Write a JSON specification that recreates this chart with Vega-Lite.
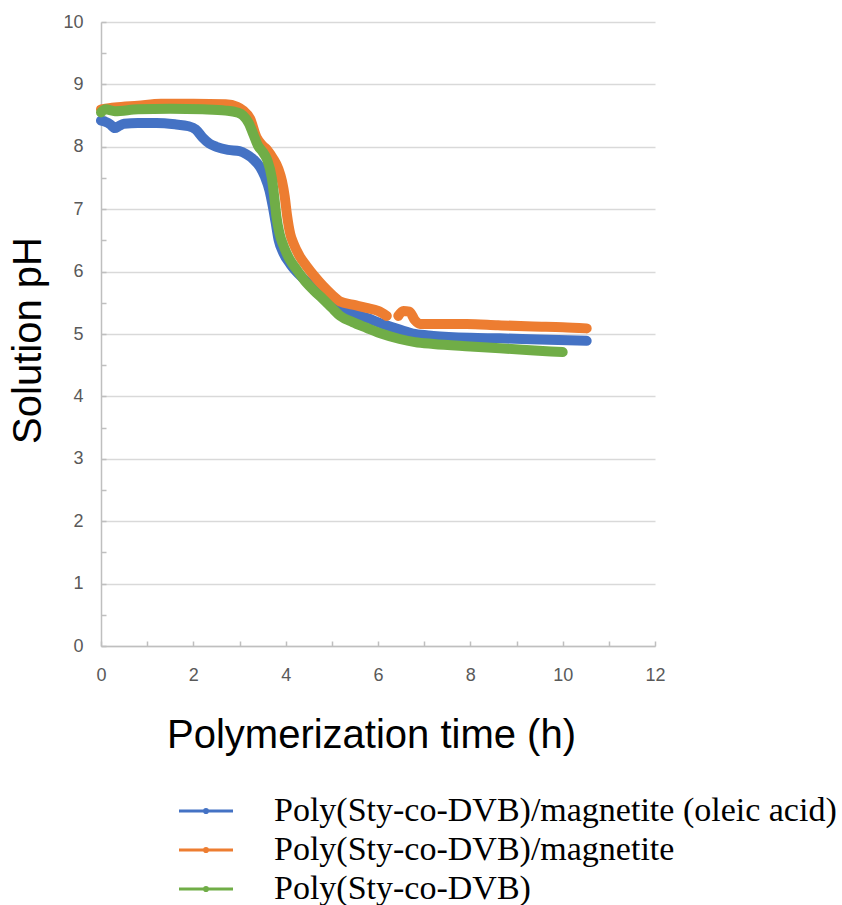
{
  "$schema": "https://vega.github.io/schema/vega-lite/v6.json",
  "autosize": {"type": "none"},
  "padding": {"left": 101, "top": 22, "right": 187, "bottom": 259},
  "width": 554,
  "height": 624,
  "background": "white",
  "config": {
    "view": {"stroke": null},
    "axis": {
      "domainColor": "#bfbfbf",
      "domainWidth": 1.5,
      "tickColor": "#bfbfbf",
      "tickWidth": 1.5,
      "gridColor": "#d9d9d9",
      "gridWidth": 1.5,
      "labelFont": "Liberation Sans",
      "labelFontSize": 18,
      "labelColor": "#595959",
      "labelFlush": false,
      "titleFont": "Liberation Sans",
      "titleFontSize": 40,
      "titleFontWeight": "normal",
      "titleColor": "#000000"
    }
  },
  "datasets": {
    "ph": [
      {"series": "Poly(Sty-co-DVB)/magnetite (oleic acid)", "part": "a", "t": 0, "ph": 8.42},
      {"series": "Poly(Sty-co-DVB)/magnetite (oleic acid)", "part": "a", "t": 0.1, "ph": 8.4},
      {"series": "Poly(Sty-co-DVB)/magnetite (oleic acid)", "part": "a", "t": 0.2, "ph": 8.36},
      {"series": "Poly(Sty-co-DVB)/magnetite (oleic acid)", "part": "a", "t": 0.3, "ph": 8.3},
      {"series": "Poly(Sty-co-DVB)/magnetite (oleic acid)", "part": "a", "t": 0.38, "ph": 8.33},
      {"series": "Poly(Sty-co-DVB)/magnetite (oleic acid)", "part": "a", "t": 0.5, "ph": 8.37},
      {"series": "Poly(Sty-co-DVB)/magnetite (oleic acid)", "part": "a", "t": 0.8, "ph": 8.38},
      {"series": "Poly(Sty-co-DVB)/magnetite (oleic acid)", "part": "a", "t": 1.2, "ph": 8.38},
      {"series": "Poly(Sty-co-DVB)/magnetite (oleic acid)", "part": "a", "t": 1.6, "ph": 8.36},
      {"series": "Poly(Sty-co-DVB)/magnetite (oleic acid)", "part": "a", "t": 1.9, "ph": 8.33},
      {"series": "Poly(Sty-co-DVB)/magnetite (oleic acid)", "part": "a", "t": 2.05, "ph": 8.28},
      {"series": "Poly(Sty-co-DVB)/magnetite (oleic acid)", "part": "a", "t": 2.2, "ph": 8.15},
      {"series": "Poly(Sty-co-DVB)/magnetite (oleic acid)", "part": "a", "t": 2.35, "ph": 8.05},
      {"series": "Poly(Sty-co-DVB)/magnetite (oleic acid)", "part": "a", "t": 2.5, "ph": 8.0},
      {"series": "Poly(Sty-co-DVB)/magnetite (oleic acid)", "part": "a", "t": 2.75, "ph": 7.95},
      {"series": "Poly(Sty-co-DVB)/magnetite (oleic acid)", "part": "a", "t": 3.0, "ph": 7.93},
      {"series": "Poly(Sty-co-DVB)/magnetite (oleic acid)", "part": "a", "t": 3.15, "ph": 7.88},
      {"series": "Poly(Sty-co-DVB)/magnetite (oleic acid)", "part": "a", "t": 3.3, "ph": 7.8},
      {"series": "Poly(Sty-co-DVB)/magnetite (oleic acid)", "part": "a", "t": 3.45, "ph": 7.67},
      {"series": "Poly(Sty-co-DVB)/magnetite (oleic acid)", "part": "a", "t": 3.55, "ph": 7.52},
      {"series": "Poly(Sty-co-DVB)/magnetite (oleic acid)", "part": "a", "t": 3.65, "ph": 7.3},
      {"series": "Poly(Sty-co-DVB)/magnetite (oleic acid)", "part": "a", "t": 3.72, "ph": 7.05},
      {"series": "Poly(Sty-co-DVB)/magnetite (oleic acid)", "part": "a", "t": 3.78, "ph": 6.8},
      {"series": "Poly(Sty-co-DVB)/magnetite (oleic acid)", "part": "a", "t": 3.85, "ph": 6.5},
      {"series": "Poly(Sty-co-DVB)/magnetite (oleic acid)", "part": "a", "t": 3.95, "ph": 6.3},
      {"series": "Poly(Sty-co-DVB)/magnetite (oleic acid)", "part": "a", "t": 4.1, "ph": 6.12},
      {"series": "Poly(Sty-co-DVB)/magnetite (oleic acid)", "part": "a", "t": 4.45, "ph": 5.84},
      {"series": "Poly(Sty-co-DVB)/magnetite (oleic acid)", "part": "a", "t": 4.8, "ph": 5.58},
      {"series": "Poly(Sty-co-DVB)/magnetite (oleic acid)", "part": "a", "t": 5.05, "ph": 5.45},
      {"series": "Poly(Sty-co-DVB)/magnetite (oleic acid)", "part": "a", "t": 5.4, "ph": 5.34},
      {"series": "Poly(Sty-co-DVB)/magnetite (oleic acid)", "part": "a", "t": 5.75, "ph": 5.26},
      {"series": "Poly(Sty-co-DVB)/magnetite (oleic acid)", "part": "a", "t": 6.1, "ph": 5.16},
      {"series": "Poly(Sty-co-DVB)/magnetite (oleic acid)", "part": "a", "t": 6.47, "ph": 5.07},
      {"series": "Poly(Sty-co-DVB)/magnetite (oleic acid)", "part": "a", "t": 6.8, "ph": 5.0},
      {"series": "Poly(Sty-co-DVB)/magnetite (oleic acid)", "part": "a", "t": 7.2, "ph": 4.97},
      {"series": "Poly(Sty-co-DVB)/magnetite (oleic acid)", "part": "a", "t": 8.0, "ph": 4.94},
      {"series": "Poly(Sty-co-DVB)/magnetite (oleic acid)", "part": "a", "t": 8.64, "ph": 4.93},
      {"series": "Poly(Sty-co-DVB)/magnetite (oleic acid)", "part": "a", "t": 9.5, "ph": 4.91},
      {"series": "Poly(Sty-co-DVB)/magnetite (oleic acid)", "part": "a", "t": 10.52, "ph": 4.89},

      {"series": "Poly(Sty-co-DVB)/magnetite", "part": "a", "t": 0, "ph": 8.6},
      {"series": "Poly(Sty-co-DVB)/magnetite", "part": "a", "t": 0.3, "ph": 8.63},
      {"series": "Poly(Sty-co-DVB)/magnetite", "part": "a", "t": 0.8, "ph": 8.66},
      {"series": "Poly(Sty-co-DVB)/magnetite", "part": "a", "t": 1.3, "ph": 8.69},
      {"series": "Poly(Sty-co-DVB)/magnetite", "part": "a", "t": 2.0, "ph": 8.69},
      {"series": "Poly(Sty-co-DVB)/magnetite", "part": "a", "t": 2.7, "ph": 8.68},
      {"series": "Poly(Sty-co-DVB)/magnetite", "part": "a", "t": 2.95, "ph": 8.64},
      {"series": "Poly(Sty-co-DVB)/magnetite", "part": "a", "t": 3.08, "ph": 8.58},
      {"series": "Poly(Sty-co-DVB)/magnetite", "part": "a", "t": 3.23, "ph": 8.45},
      {"series": "Poly(Sty-co-DVB)/magnetite", "part": "a", "t": 3.37, "ph": 8.15},
      {"series": "Poly(Sty-co-DVB)/magnetite", "part": "a", "t": 3.5, "ph": 8.02},
      {"series": "Poly(Sty-co-DVB)/magnetite", "part": "a", "t": 3.6, "ph": 7.95},
      {"series": "Poly(Sty-co-DVB)/magnetite", "part": "a", "t": 3.72, "ph": 7.82},
      {"series": "Poly(Sty-co-DVB)/magnetite", "part": "a", "t": 3.84, "ph": 7.65},
      {"series": "Poly(Sty-co-DVB)/magnetite", "part": "a", "t": 3.92, "ph": 7.45},
      {"series": "Poly(Sty-co-DVB)/magnetite", "part": "a", "t": 3.98, "ph": 7.2},
      {"series": "Poly(Sty-co-DVB)/magnetite", "part": "a", "t": 4.03, "ph": 6.9},
      {"series": "Poly(Sty-co-DVB)/magnetite", "part": "a", "t": 4.1, "ph": 6.6},
      {"series": "Poly(Sty-co-DVB)/magnetite", "part": "a", "t": 4.17, "ph": 6.45},
      {"series": "Poly(Sty-co-DVB)/magnetite", "part": "a", "t": 4.3, "ph": 6.25},
      {"series": "Poly(Sty-co-DVB)/magnetite", "part": "a", "t": 4.45, "ph": 6.09},
      {"series": "Poly(Sty-co-DVB)/magnetite", "part": "a", "t": 4.62, "ph": 5.93},
      {"series": "Poly(Sty-co-DVB)/magnetite", "part": "a", "t": 4.81, "ph": 5.77},
      {"series": "Poly(Sty-co-DVB)/magnetite", "part": "a", "t": 5.0, "ph": 5.63},
      {"series": "Poly(Sty-co-DVB)/magnetite", "part": "a", "t": 5.18, "ph": 5.52},
      {"series": "Poly(Sty-co-DVB)/magnetite", "part": "a", "t": 5.45, "ph": 5.47},
      {"series": "Poly(Sty-co-DVB)/magnetite", "part": "a", "t": 5.75, "ph": 5.42},
      {"series": "Poly(Sty-co-DVB)/magnetite", "part": "a", "t": 6.0, "ph": 5.37},
      {"series": "Poly(Sty-co-DVB)/magnetite", "part": "a", "t": 6.19, "ph": 5.29},
      {"series": "Poly(Sty-co-DVB)/magnetite", "part": "b", "t": 6.44, "ph": 5.29},
      {"series": "Poly(Sty-co-DVB)/magnetite", "part": "b", "t": 6.55, "ph": 5.37},
      {"series": "Poly(Sty-co-DVB)/magnetite", "part": "b", "t": 6.68, "ph": 5.36},
      {"series": "Poly(Sty-co-DVB)/magnetite", "part": "b", "t": 6.8, "ph": 5.22},
      {"series": "Poly(Sty-co-DVB)/magnetite", "part": "b", "t": 6.91, "ph": 5.16},
      {"series": "Poly(Sty-co-DVB)/magnetite", "part": "b", "t": 7.5, "ph": 5.16},
      {"series": "Poly(Sty-co-DVB)/magnetite", "part": "b", "t": 7.92, "ph": 5.16},
      {"series": "Poly(Sty-co-DVB)/magnetite", "part": "b", "t": 8.6, "ph": 5.14},
      {"series": "Poly(Sty-co-DVB)/magnetite", "part": "b", "t": 9.36, "ph": 5.12},
      {"series": "Poly(Sty-co-DVB)/magnetite", "part": "b", "t": 10.0, "ph": 5.11},
      {"series": "Poly(Sty-co-DVB)/magnetite", "part": "b", "t": 10.52, "ph": 5.09},

      {"series": "Poly(Sty-co-DVB)", "part": "a", "t": 0, "ph": 8.55},
      {"series": "Poly(Sty-co-DVB)", "part": "a", "t": 0.1, "ph": 8.6},
      {"series": "Poly(Sty-co-DVB)", "part": "a", "t": 0.3, "ph": 8.57},
      {"series": "Poly(Sty-co-DVB)", "part": "a", "t": 0.8, "ph": 8.6},
      {"series": "Poly(Sty-co-DVB)", "part": "a", "t": 1.5, "ph": 8.61},
      {"series": "Poly(Sty-co-DVB)", "part": "a", "t": 2.2, "ph": 8.6},
      {"series": "Poly(Sty-co-DVB)", "part": "a", "t": 2.7, "ph": 8.58},
      {"series": "Poly(Sty-co-DVB)", "part": "a", "t": 2.95, "ph": 8.55},
      {"series": "Poly(Sty-co-DVB)", "part": "a", "t": 3.08, "ph": 8.5},
      {"series": "Poly(Sty-co-DVB)", "part": "a", "t": 3.2, "ph": 8.38},
      {"series": "Poly(Sty-co-DVB)", "part": "a", "t": 3.3, "ph": 8.2},
      {"series": "Poly(Sty-co-DVB)", "part": "a", "t": 3.4, "ph": 8.02},
      {"series": "Poly(Sty-co-DVB)", "part": "a", "t": 3.5, "ph": 7.92},
      {"series": "Poly(Sty-co-DVB)", "part": "a", "t": 3.6, "ph": 7.79},
      {"series": "Poly(Sty-co-DVB)", "part": "a", "t": 3.7, "ph": 7.5},
      {"series": "Poly(Sty-co-DVB)", "part": "a", "t": 3.76, "ph": 7.15},
      {"series": "Poly(Sty-co-DVB)", "part": "a", "t": 3.8, "ph": 6.88},
      {"series": "Poly(Sty-co-DVB)", "part": "a", "t": 3.87, "ph": 6.6},
      {"series": "Poly(Sty-co-DVB)", "part": "a", "t": 3.95, "ph": 6.42},
      {"series": "Poly(Sty-co-DVB)", "part": "a", "t": 4.09, "ph": 6.19},
      {"series": "Poly(Sty-co-DVB)", "part": "a", "t": 4.25, "ph": 6.02},
      {"series": "Poly(Sty-co-DVB)", "part": "a", "t": 4.45, "ph": 5.82},
      {"series": "Poly(Sty-co-DVB)", "part": "a", "t": 4.62, "ph": 5.69},
      {"series": "Poly(Sty-co-DVB)", "part": "a", "t": 4.81, "ph": 5.56},
      {"series": "Poly(Sty-co-DVB)", "part": "a", "t": 5.0, "ph": 5.42},
      {"series": "Poly(Sty-co-DVB)", "part": "a", "t": 5.18, "ph": 5.29},
      {"series": "Poly(Sty-co-DVB)", "part": "a", "t": 5.45, "ph": 5.19},
      {"series": "Poly(Sty-co-DVB)", "part": "a", "t": 5.75, "ph": 5.1},
      {"series": "Poly(Sty-co-DVB)", "part": "a", "t": 6.1, "ph": 5.0},
      {"series": "Poly(Sty-co-DVB)", "part": "a", "t": 6.47, "ph": 4.92},
      {"series": "Poly(Sty-co-DVB)", "part": "a", "t": 6.8, "ph": 4.87},
      {"series": "Poly(Sty-co-DVB)", "part": "a", "t": 7.2, "ph": 4.84},
      {"series": "Poly(Sty-co-DVB)", "part": "a", "t": 8.0, "ph": 4.8},
      {"series": "Poly(Sty-co-DVB)", "part": "a", "t": 8.64, "ph": 4.77},
      {"series": "Poly(Sty-co-DVB)", "part": "a", "t": 9.3, "ph": 4.74},
      {"series": "Poly(Sty-co-DVB)", "part": "a", "t": 10.0, "ph": 4.71}
    ]
  },
  "data": {"name": "ph"},
  "encoding": {
    "x": {
      "field": "t", "type": "quantitative",
      "scale": {"domain": [0, 12], "nice": false, "zero": true},
      "axis": {
        "title": "Polymerization time (h)",
        "values": [0,1,2,3,4,5,6,7,8,9,10,11,12],
        "labelExpr": "datum.value % 2 === 0 ? format(datum.value, 'd') : ''",
        "grid": false,
        "tickSize": -5,
        "labelPadding": 25,
        "titleX": 270,
        "titleY": 101,
        "titleAlign": "center",
        "titleBaseline": "alphabetic"
      }
    },
    "y": {
      "field": "ph", "type": "quantitative",
      "scale": {"domain": [0, 10], "nice": false},
      "axis": {
        "title": "Solution pH",
        "values": [0,0.5,1,1.5,2,2.5,3,3.5,4,4.5,5,5.5,6,6.5,7,7.5,8,8.5,9,9.5,10],
        "labelExpr": "datum.value % 1 === 0 ? format(datum.value, 'd') : ''",
        "grid": true,
        "gridOpacity": {"condition": {"test": "datum.value % 1 === 0", "value": 1}, "value": 0},
        "tickSize": -5,
        "labelPadding": 23,
        "titleAngle": -90,
        "titleX": -61,
        "titleY": 318,
        "titleAlign": "center",
        "titleBaseline": "alphabetic"
      }
    },
    "color": {
      "field": "series", "type": "nominal",
      "scale": {
        "domain": ["Poly(Sty-co-DVB)/magnetite (oleic acid)", "Poly(Sty-co-DVB)/magnetite", "Poly(Sty-co-DVB)"],
        "range": ["#4472C4", "#ED7D31", "#70AD47"]
      },
      "legend": {
        "title": null,
        "orient": "none",
        "direction": "vertical",
        "legendX": 88,
        "legendY": 772,
        "padding": 0,
        "symbolType": "M-2,0H2M-0.12,0A0.12,0.12,0,1,1,0.12,0A0.12,0.12,0,1,1,-0.12,0",
        "symbolSize": 729,
        "symbolStrokeWidth": 3,
        "symbolFillColor": "transparent",
        "labelFont": "Liberation Serif",
        "labelFontSize": 34,
        "labelColor": "#000000",
        "labelLimit": 0,
        "labelOffset": 51,
        "rowPadding": 5
      }
    },
    "detail": {"field": "part", "type": "nominal"}
  },
  "layer": [
    {
      "transform": [{"filter": "datum.series === 'Poly(Sty-co-DVB)/magnetite (oleic acid)'"}],
      "mark": {"type": "line", "strokeWidth": 10, "strokeCap": "round", "strokeJoin": "round", "interpolate": "monotone"}
    },
    {
      "transform": [{"filter": "datum.series === 'Poly(Sty-co-DVB)/magnetite'"}],
      "mark": {"type": "line", "strokeWidth": 10, "strokeCap": "round", "strokeJoin": "round", "interpolate": "monotone"}
    },
    {
      "transform": [{"filter": "datum.series === 'Poly(Sty-co-DVB)'"}],
      "mark": {"type": "line", "strokeWidth": 10, "strokeCap": "round", "strokeJoin": "round", "interpolate": "monotone"}
    }
  ]
}
